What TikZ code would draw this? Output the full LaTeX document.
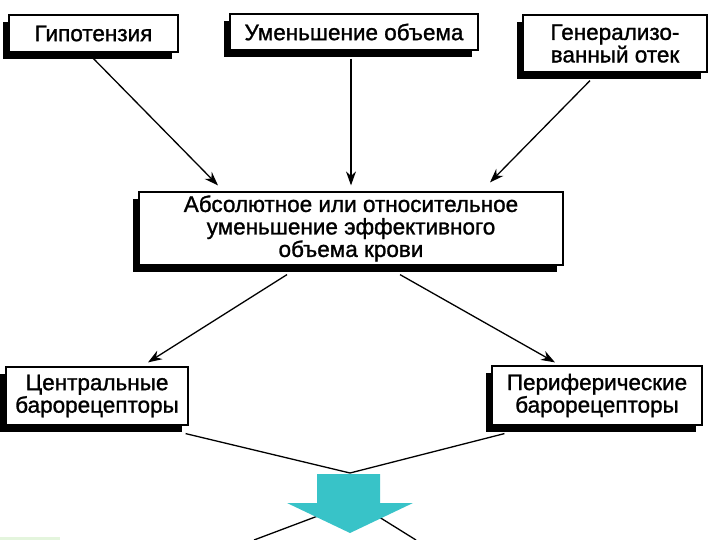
\documentclass[tikz,border=0pt]{standalone}
\usepackage{fontspec}
\setmainfont[FakeBold=1.2]{Liberation Sans}
\usetikzlibrary{shadows,arrows.meta,calc}
\definecolor{cyanarrow}{HTML}{38C3C8}
\definecolor{paleg}{HTML}{E4F5DD}
\begin{document}
\begin{tikzpicture}[x=1pt,y=-1pt,
  box/.style={draw=black,line width=1.2pt,fill=white,inner sep=0pt,align=center,
    font=\fontsize{22.5}{22.5}\selectfont,
    drop shadow={shadow xshift=-6pt,shadow yshift=-7pt,fill=black,opacity=1}},
  arr/.style={line width=1.3pt,-{Stealth[length=14pt,width=10pt]}},
  ln/.style={line width=1.3pt}]
\useasboundingbox (0,0) rectangle (720,540);
\fill[paleg] (0,537) rectangle (60,540);
\node[box,minimum width=169pt,minimum height=37pt] (hyp) at (93.5,33.5) {Гипотензия};
\node[box,minimum width=248pt,minimum height=36pt] (vol) at (354,32) {Уменьшение объема};
\node[box,minimum width=184pt,minimum height=57pt] (gen) at (615,43.5) {Генерализо-\\ванный отек};
\node[box,minimum width=424pt,minimum height=73pt] (main) at (351,228.5) {Абсолютное или относительное\\уменьшение эффективного\\объема крови};
\node[box,minimum width=182pt,minimum height=58pt] (cen) at (97,396) {Центральные\\барорецепторы};
\node[box,minimum width=210pt,minimum height=59pt] (per) at (597,395.5) {Периферические\\барорецепторы};
\draw[arr] ($(hyp.south)+(-1,5)$) -- ($(main.north)+(-133,-6)$);
\draw[arr] ($(vol.south)+(-3,8)$) -- ($(main.north)+(0,-6)$);
\draw[arr] ($(gen.south)+(-25,8)$) -- ($(main.north)+(139,-9)$);
\draw[arr] ($(main.south)+(-64,9)$) -- ($(cen.north)+(51,-4)$);
\draw[arr] ($(main.south)+(49,9)$) -- ($(per.north)+(-42,-3)$);
\coordinate (meet) at (350,473);
\coordinate (cross) at (355,502);
\coordinate (dl) at (254,540);
\coordinate (dr) at (416,540);
\draw[ln] ($(cen.south east)+(-3,8)$) -- (meet);
\draw[ln] ($(per.south west)+(13,8)$) -- (meet);
\draw[ln] (cross) -- (dl);
\draw[ln] (cross) -- (dr);
\fill[cyanarrow] (317,474) -- (380,474) -- (380,503) -- (413,503) -- (350,533) -- (287,503) -- (317,503) -- cycle;
\end{tikzpicture}
\end{document}
